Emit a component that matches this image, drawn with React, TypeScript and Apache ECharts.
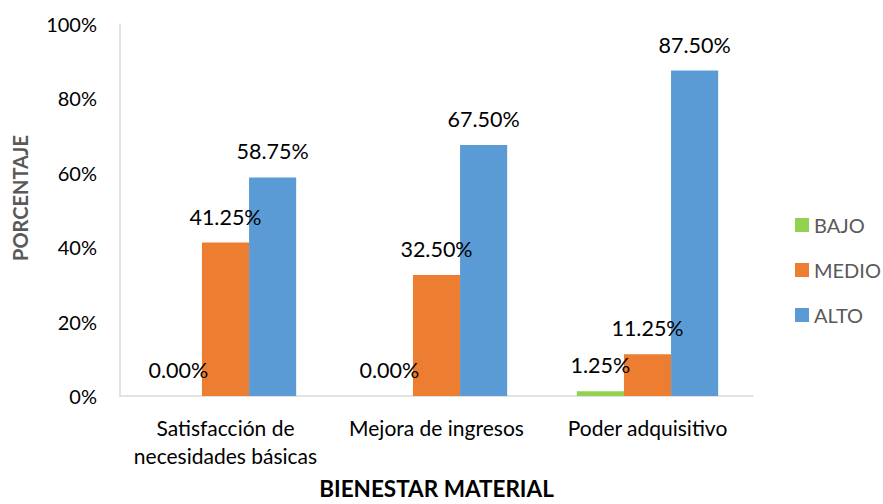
import React, { useEffect, useRef } from "react";
import * as echarts from "echarts";

const categories = ["Satisfacción de\nnecesidades básicas", "Mejora de ingresos", "Poder adquisitivo"];
const bajo = [0.0, 0.0, 1.25];
const medio = [41.25, 32.5, 11.25];
const alto = [58.75, 67.5, 87.5];
const seriesNames = ["BAJO", "MEDIO", "ALTO"];
const colors = ["#92D050", "#ED7D31", "#5B9BD5"];

const FONT = "Lato, 'Open Sans', sans-serif";

export default function App() {
  const ref = useRef<HTMLDivElement>(null);
  useEffect(() => {
    if (!ref.current) return;
    const chart = echarts.init(ref.current, undefined, { renderer: "svg" });
    const mk = (name: string, data: number[], color: string) => ({
      name,
      type: "bar",
      data,
      barGap: "0%",
      barCategoryGap: "33%",
      itemStyle: { color },
      label: {
        show: true,
        position: "top",
        distance: 15,
        formatter: (p: any) => p.value.toFixed(2) + "%",
        color: "#000",
        fontSize: 21.5,
        fontFamily: FONT,
      },
    });
    chart.setOption({
      animation: false,
      textStyle: { fontFamily: FONT },
      grid: { left: 120, right: 130, top: 24, bottom: 108, containLabel: false, outerBoundsMode: "none" },
      legend: {
        orient: "vertical",
        left: 795,
        top: 215,
        padding: 0,
        itemWidth: 14,
        itemHeight: 14,
        itemGap: 25,
        icon: "rect",
        data: seriesNames,
        textStyle: { fontSize: 20, color: "#595959", fontFamily: FONT, lineHeight: 20 },
      },
      xAxis: {
        type: "category",
        data: categories,
        name: "BIENESTAR MATERIAL",
        nameLocation: "middle",
        nameGap: 80,
        nameTextStyle: { fontSize: 22.5, fontWeight: "bold", color: "#000", fontFamily: FONT, lineHeight: 24 },
        axisLine: { lineStyle: { color: "#D9D9D9", width: 1.5 } },
        axisTick: { show: false },
        axisLabel: { interval: 0, hideOverlap: false, fontSize: 21, color: "#000", lineHeight: 28, margin: 17, fontFamily: FONT },
      },
      yAxis: {
        type: "value",
        min: 0,
        max: 100,
        interval: 20,
        name: "PORCENTAJE",
        nameLocation: "middle",
        nameGap: 90,
        nameTextStyle: { fontSize: 20, fontWeight: "bold", color: "#595959", fontFamily: FONT, padding: [0, 0, 0, 24] },
        axisLine: { show: true, lineStyle: { color: "#D9D9D9", width: 1.5 } },
        axisTick: { show: false },
        splitLine: { show: false },
        axisLabel: { fontSize: 20, color: "#000", margin: 23, formatter: "{value}%", fontFamily: FONT },
      },
      series: [mk(seriesNames[0], bajo, colors[0]), mk(seriesNames[1], medio, colors[1]), mk(seriesNames[2], alto, colors[2])],
    });
    return () => chart.dispose();
  }, []);
  return <div ref={ref} style={{ width: 883, height: 504, position: "absolute", left: 0, top: 0 }} />;
}
